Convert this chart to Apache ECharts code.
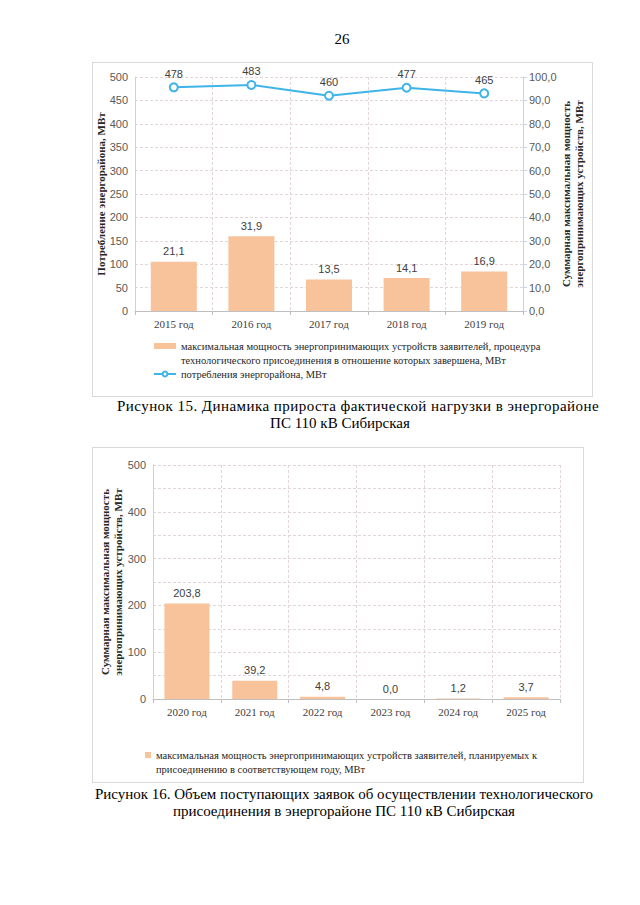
<!DOCTYPE html>
<html><head><meta charset="utf-8">
<script src="https://cdn.jsdelivr.net/npm/echarts@6/dist/echarts.min.js"></script>
<style>
body{margin:0;background:#fff;width:640px;height:905px;position:relative;overflow:hidden;font-family:"Liberation Serif","Times New Roman",serif;}
.t{position:absolute;white-space:nowrap;font-size:15px;color:#000;line-height:17px;}
.frame{position:absolute;border:1px solid #d9d9d9;box-sizing:border-box;}
</style></head><body>
<div class="t" style="left:0;width:684px;text-align:center;top:31px;">26</div>
<div id="c1" class="frame" style="left:92px;top:62px;width:501px;height:335px;"></div>
<div class="t" style="left:117px;top:398px;letter-spacing:0.45px;">Рисунок 15. Динамика прироста фактической нагрузки в энергорайоне</div>
<div class="t" style="left:0;width:680px;text-align:center;top:415px;">ПС 110 кВ Сибирская</div>
<div id="c2" class="frame" style="left:92px;top:447px;width:492px;height:336px;"></div>
<div class="t" style="left:0;width:688px;text-align:center;top:786px;">Рисунок 16. Объем поступающих заявок об осуществлении технологического</div>
<div class="t" style="left:0;width:688px;text-align:center;top:803px;">присоединения в энергорайоне ПС 110 кВ Сибирская</div>
<script>
// ---- data ----
const years1 = ['2015 год', '2016 год', '2017 год', '2018 год', '2019 год'];
const consumption = [478, 483, 460, 477, 465];
const connectedPower = [21.1, 31.9, 13.5, 14.1, 16.9];
const years2 = ['2020 год', '2021 год', '2022 год', '2023 год', '2024 год', '2025 год'];
const plannedPower = [203.8, 39.2, 4.8, 0.0, 1.2, 3.7];
const nameBar1 = 'максимальная мощность энергопринимающих устройств заявителей, процедура\nтехнологического присоединения в отношение которых завершена, МВт';
const nameLine1 = 'потребления энергорайона, МВт';
const nameBar2 = 'максимальная мощность энергопринимающих устройств заявителей, планируемых к\nприсоединению в соответствующем году, МВт';
const axisName1L = 'Потребление энергорайона, МВт';
const axisNameSum = 'Суммарная максимальная мощность\nэнергопринимающих устройств, МВт';

const SERIF = '"Liberation Serif","Times New Roman",serif';
const SANS = '"Liberation Sans",Arial,sans-serif';
const comma1 = v => Number(v).toFixed(1).replace('.', ',');
const barColor = '#f8c29b';
const lineColor = '#3fb4e8';
const gridLine = {show: true, lineStyle: {color: '#e2d6da', type: [3, 2], width: 1}};
const axisNameStyle = {fontFamily: SERIF, fontWeight: 'bold', fontSize: 11, color: '#262626', lineHeight: 13};
// two-line legend names: a leading empty line keeps the icon level with the first line
const legendFmt = name => (name.indexOf('\n') >= 0 ? '\n' + name : name);

const c1 = echarts.init(document.getElementById('c1'), null, {renderer: 'svg'});
c1.setOption({
  animation: false,
  grid: {left: 42, right: 69, top: 14, bottom: 85, outerBoundsMode: 'none', containLabel: false},
  legend: {
    orient: 'vertical', left: 55, top: 257, itemGap: 0, itemWidth: 22, itemHeight: 6,
    formatter: legendFmt,
    textStyle: {fontFamily: SERIF, fontSize: 10.5, color: '#262626', lineHeight: 14},
    data: [{name: nameBar1, icon: 'rect'}, {name: nameLine1}]
  },
  xAxis: {
    type: 'category', data: years1,
    axisLine: {lineStyle: {color: '#bfbfbf'}},
    axisTick: {show: true, length: 4, lineStyle: {color: '#bfbfbf'}},
    axisLabel: {fontFamily: SERIF, fontSize: 11, color: '#404040', margin: 7},
    splitLine: gridLine
  },
  yAxis: [{
    type: 'value', min: 0, max: 500, interval: 50,
    name: axisName1L, nameLocation: 'middle', nameGap: 28, nameMoveOverlap: false, nameTextStyle: axisNameStyle,
    axisLine: {show: true, lineStyle: {color: '#c5d3e6'}},
    axisTick: {show: false},
    axisLabel: {fontFamily: SANS, fontSize: 11, color: '#595959', margin: 7},
    splitLine: gridLine
  }, {
    type: 'value', min: 0, max: 100, interval: 10, position: 'right',
    name: axisNameSum, nameLocation: 'middle', nameGap: 36, nameMoveOverlap: false, nameTextStyle: axisNameStyle,
    axisLine: {show: true, lineStyle: {color: '#c5d3e6'}},
    axisTick: {show: true, length: 4, lineStyle: {color: '#c5d3e6'}},
    axisLabel: {fontFamily: SANS, fontSize: 11, color: '#595959', margin: 6, formatter: comma1},
    splitLine: {show: false}
  }],
  series: [{
    name: nameBar1, type: 'bar', yAxisIndex: 1, data: connectedPower, barWidth: 46,
    itemStyle: {color: barColor},
    label: {show: true, position: 'top', distance: 5, fontFamily: SANS, fontSize: 11, color: '#404040', formatter: p => comma1(p.value)}
  }, {
    name: nameLine1, type: 'line', yAxisIndex: 0, data: consumption,
    symbol: 'emptyCircle', symbolSize: 8,
    lineStyle: {color: lineColor, width: 2},
    itemStyle: {color: lineColor, borderWidth: 2},
    label: {show: true, position: 'top', distance: 3, fontFamily: SANS, fontSize: 11, color: '#404040'}
  }]
});

const c2 = echarts.init(document.getElementById('c2'), null, {renderer: 'svg'});
c2.setOption({
  animation: false,
  grid: {left: 60, right: 23, top: 17, bottom: 83, outerBoundsMode: 'none', containLabel: false},
  legend: {
    orient: 'vertical', left: 47, top: 281, itemGap: 0, itemWidth: 6, itemHeight: 6,
    formatter: legendFmt,
    textStyle: {fontFamily: SERIF, fontSize: 10.5, color: '#262626', lineHeight: 14},
    data: [{name: nameBar2, icon: 'rect'}]
  },
  xAxis: {
    type: 'category', data: years2,
    axisLine: {lineStyle: {color: '#bfbfbf'}},
    axisTick: {show: true, length: 4, lineStyle: {color: '#bfbfbf'}},
    axisLabel: {fontFamily: SERIF, fontSize: 11, color: '#404040', margin: 7},
    splitLine: gridLine
  },
  yAxis: {
    type: 'value', min: 0, max: 500, interval: 50,
    name: axisNameSum, nameLocation: 'middle', nameGap: 29, nameMoveOverlap: false, nameTextStyle: axisNameStyle,
    axisLine: {show: true, lineStyle: {color: '#c5d3e6'}},
    axisTick: {show: false},
    axisLabel: {fontFamily: SANS, fontSize: 11, color: '#595959', margin: 7,
      formatter: v => (v % 100 === 0 ? String(v) : '')},
    splitLine: gridLine
  },
  series: [{
    name: nameBar2, type: 'bar', data: plannedPower, barWidth: 45,
    itemStyle: {color: barColor},
    label: {show: true, position: 'top', distance: 5, fontFamily: SANS, fontSize: 11, color: '#404040', formatter: p => comma1(p.value)}
  }]
});
</script>
</body></html>
